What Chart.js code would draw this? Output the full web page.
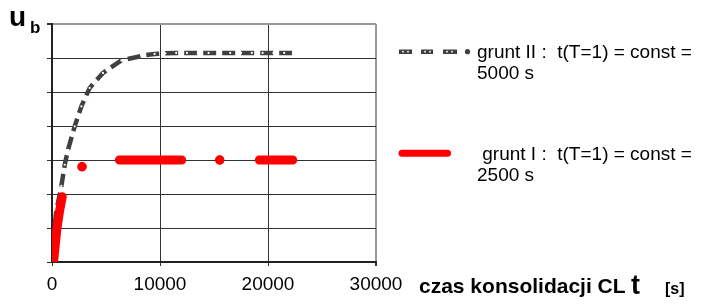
<!DOCTYPE html>
<html>
<head>
<meta charset="utf-8">
<script src="https://cdn.jsdelivr.net/npm/chart.js@4"></script>
<style>
  body { margin: 0; background: #fff; }
  #wrap { position: relative; width: 702px; height: 307px; font-family: "Liberation Sans", Arial, sans-serif; color: #000; }
  #chart { position: absolute; left: 0; top: 0; }
  .abs { position: absolute; white-space: pre; font-weight: bold; }
  .lbl { position: absolute; white-space: pre; line-height: 21px; font-size: 19px; }
</style>
</head>
<body>
<div id="wrap">
  <canvas id="chart" width="702" height="307"></canvas>
  <div class="abs" style="left:9px; top:3px; font-size:28px; line-height:28px;">u</div>
  <div class="abs" style="left:30px; top:19px; font-size:17px; line-height:17px;">b</div>
  <div class="abs" style="left:419px; top:275px; font-size:21px; line-height:21px;">czas konsolidacji CL</div>
  <div class="abs" style="left:631px; top:272px; font-size:27px; line-height:27px;">t</div>
  <div class="abs" style="left:665px; top:281px; font-size:16px; line-height:16px;">[s]</div>
  <svg style="position:absolute;left:0;top:0" width="702" height="307">
    <path d="M399 51.7 h13 M421 51.7 h12 M443 51.7 h14" stroke="#404040" stroke-width="4.5" />
    <circle cx="467.5" cy="51.7" r="2.6" fill="#404040" />
    <circle cx="403" cy="51.7" r="0.9" fill="#fff" /><circle cx="408" cy="51.7" r="0.9" fill="#fff" />
    <circle cx="425" cy="51.7" r="0.9" fill="#fff" /><circle cx="430" cy="51.7" r="0.9" fill="#fff" />
    <circle cx="447" cy="51.7" r="0.9" fill="#fff" /><circle cx="452" cy="51.7" r="0.9" fill="#fff" />
    <line x1="402" y1="153.3" x2="447.5" y2="153.3" stroke="#ff0000" stroke-width="7" stroke-linecap="round" />
  </svg>
  <div class="lbl" style="left:477px; top:41px;">grunt II :  t(T=1) = const =
5000 s</div>
  <div class="lbl" style="left:477px; top:143px;"> grunt I :  t(T=1) = const =
2500 s</div>
</div>
<script>
// grunt II (szary)
const gruntIIx = [0, 150, 400, 870, 1180, 1480, 2100, 2720, 3490, 4720, 6420, 8580,
  9500, 10500, 11500, 12500, 13500, 14500, 15500, 16500, 17500, 18500, 19500, 20500, 21500, 22300];
const gruntIIy = [0, 0.8, 1.5, 2.24, 2.86, 3.30, 3.99, 4.58, 5.12, 5.56, 5.93, 6.08,
  6.12, 6.14, 6.15, 6.15, 6.15, 6.15, 6.15, 6.15, 6.15, 6.15, 6.15, 6.15, 6.15, 6.15];

// grunt I (czerwony), null = przerwa
const gruntIx = [150, 440, 700, 950, 1000, 2780, 3000, 6240, 12010, 13000, 15530, 16000, 19200, 22290];
const gruntIy = [0.03, 0.95, 1.5, 1.92, null, 2.8, null, 3, 3, null, 3, null, 3, 3];

const xTicks = [0, 10000, 20000, 30000];

function toPoints(xs, ys) {
  return xs.map((x, i) => ({ x: x, y: ys[i] }));
}

// pojedyncze punkty (otoczone przerwami) dostaja znacznik
const redRadius = gruntIy.map((y, i) => {
  const prev = gruntIy[i - 1], next = gruntIy[i + 1];
  return (y !== null && prev === null && (next === null || next === undefined)) ? 4.7 : 0;
});

const ctx = document.getElementById('chart').getContext('2d');
new Chart(ctx, {
  type: 'scatter',
  data: {
    datasets: [
      {
        label: 'grunt I',
        data: toPoints(gruntIx, gruntIy),
        showLine: true,
        spanGaps: false,
        borderColor: '#ff0000',
        backgroundColor: '#ff0000',
        borderWidth: 9,
        borderCapStyle: 'round',
        borderJoinStyle: 'round',
        pointRadius: redRadius,
        pointBorderWidth: 0,
        order: 0
      },
      {
        label: 'grunt II',
        data: toPoints(gruntIIx, gruntIIy),
        showLine: true,
        borderColor: '#404040',
        borderWidth: 4.5,
        borderDash: [13, 6],
        pointRadius: 1.1,
        pointBackgroundColor: '#ffffff',
        pointBorderWidth: 0,
        order: 1
      }
    ]
  },
  options: {
    responsive: false,
    animation: false,
    layout: { padding: { left: 0, top: 24, right: 326, bottom: 0 } },
    plugins: { legend: { display: false }, tooltip: { enabled: false } },
    scales: {
      x: {
        type: 'linear',
        min: 0, max: 30000,
        afterBuildTicks: s => { s.ticks = xTicks.map(v => ({ value: v })); },
        afterFit: s => { s.height = 45; },
        border: { color: '#222', width: 2 },
        grid: {
          color: c => c.tick && c.tick.value === 30000 ? '#999' : '#333',
          lineWidth: c => c.tick && c.tick.value === 30000 ? 2 : 1,
          tickLength: 4,
          tickColor: '#333'
        },
        ticks: {
          color: '#000',
          padding: 7,
          maxRotation: 0,
          font: { family: 'Liberation Sans', size: 19 },
          callback: v => String(v)
        }
      },
      y: {
        min: 0, max: 7,
        afterFit: s => { s.width = 52; },
        border: { color: '#222', width: 2 },
        grid: {
          color: c => c.tick && c.tick.value === 7 ? '#999' : '#333',
          lineWidth: c => c.tick && c.tick.value === 7 ? 2 : 1,
          tickLength: 5,
          tickColor: '#333'
        },
        ticks: { stepSize: 1, display: false }
      }
    }
  }
});
</script>
</body>
</html>
